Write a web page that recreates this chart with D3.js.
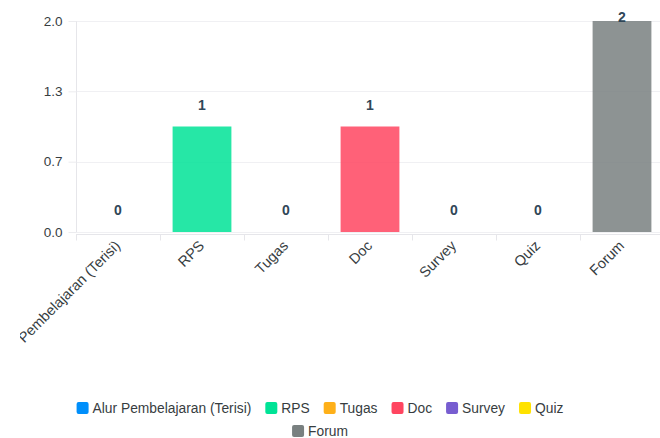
<!DOCTYPE html>
<html>
<head>
<meta charset="utf-8">
<script src="https://cdn.jsdelivr.net/npm/d3@7/dist/d3.min.js"></script>
<style>
  html, body { margin: 0; padding: 0; background: #fff; }
  svg { display: block; font-family: "Liberation Sans", Arial, Helvetica, sans-serif; }
</style>
</head>
<body>
<svg id="chart" width="660" height="438"></svg>
<script>
// Activity counts per category
const categories = ["Alur Pembelajaran (Terisi)", "RPS", "Tugas", "Doc", "Survey", "Quiz", "Forum"];
const values = [0, 1, 0, 1, 0, 0, 2];
const colors = ["#008FFB", "#00E396", "#FEB019", "#FF4560", "#775DD0", "#FFE200", "#798080"];
const yTickValues = [0, 0.6667, 1.3333, 2];
const yTickLabels = ["0.0", "0.7", "1.3", "2.0"];

const svg = d3.select("#chart");
const plot = { left: 76, top: 21, width: 588, height: 211 };

const x = d3.scaleBand().domain(categories).range([plot.left, plot.left + plot.width]).paddingInner(0.3).paddingOuter(0.15);
const xBand = d3.scaleBand().domain(categories).range([plot.left, plot.left + plot.width]);
const y = d3.scaleLinear().domain([0, 2]).range([plot.top + plot.height, plot.top]);

// clip for the rotated category labels
svg.append("defs").append("clipPath").attr("id", "xlabel-clip")
  .append("rect").attr("x", 20).attr("y", 232).attr("width", 640).attr("height", 150);

// grid lines
svg.append("g").selectAll("line").data(yTickValues).join("line")
  .attr("x1", plot.left).attr("x2", plot.left + plot.width)
  .attr("y1", d => Math.round(y(d)) + 0.5).attr("y2", d => Math.round(y(d)) + 0.5)
  .attr("stroke", "#f0f0f3").attr("stroke-width", 1);

// y axis
const yAxis = d3.axisLeft(y).tickValues(yTickValues).tickSize(8).tickPadding(6)
  .tickFormat((d, i) => yTickLabels[i]);
const gy = svg.append("g").attr("transform", `translate(${plot.left + 0.5},0)`).call(yAxis);
gy.select(".domain").attr("stroke", "#e6e6ea").attr("d", `M0,${plot.top}V${plot.top + plot.height}`);
gy.selectAll(".tick line").attr("stroke", "#ececef");
gy.selectAll(".tick text").attr("fill", "#373d3f").attr("font-size", 13.5);

// x axis baseline and category ticks
const baseY = plot.top + plot.height + 2.5;
svg.append("line").attr("x1", plot.left).attr("x2", plot.left + plot.width)
  .attr("y1", baseY).attr("y2", baseY).attr("stroke", "#e6e6ea");
svg.append("g").selectAll("line").data(categories).join("line")
  .attr("x1", d => Math.round(xBand(d)) + 0.5).attr("x2", d => Math.round(xBand(d)) + 0.5)
  .attr("y1", baseY).attr("y2", baseY + 6).attr("stroke", "#e6e6ea");

// bars
svg.append("g").selectAll("rect").data(categories).join("rect")
  .attr("x", d => x(d)).attr("width", x.bandwidth())
  .attr("y", (d, i) => y(values[i]))
  .attr("height", (d, i) => y(0) - y(values[i]))
  .attr("fill", (d, i) => colors[i]).attr("fill-opacity", 0.85);

// value labels above bars
svg.append("g").selectAll("text").data(categories).join("text")
  .attr("x", d => x(d) + x.bandwidth() / 2)
  .attr("y", (d, i) => Math.max(y(values[i]) - 17, 22))
  .attr("text-anchor", "middle").attr("font-size", 14).attr("font-weight", "bold")
  .attr("fill", "#304758")
  .text((d, i) => values[i]);

// rotated category labels
svg.append("g").attr("clip-path", "url(#xlabel-clip)")
  .selectAll("text").data(categories).join("text")
  .attr("transform", d => `translate(${xBand(d) + xBand.bandwidth() / 2 - 3},${baseY + 6}) rotate(-45)`)
  .attr("text-anchor", "end").attr("dy", "0.6em")
  .attr("font-size", 14.5).attr("fill", "#373d3f")
  .text(d => d);

// legend, centred rows
const legendFont = 13.8, markerSize = 12, gapAfterMarker = 4, itemGap = 14, centerX = 320;
const measure = svg.append("text").attr("font-size", legendFont).attr("visibility", "hidden");
const items = categories.map((c, i) => {
  measure.text(c);
  const w = measure.node().getComputedTextLength();
  return { label: c, color: colors[i], w: markerSize + gapAfterMarker + w };
});
measure.remove();
const rows = [[]];
let rowW = 0;
items.forEach(it => {
  const add = (rows[rows.length - 1].length ? itemGap : 0) + it.w;
  if (rowW + add > 520 && rows[rows.length - 1].length) { rows.push([it]); rowW = it.w; }
  else { rows[rows.length - 1].push(it); rowW += add; }
});
const legend = svg.append("g");
rows.forEach((row, r) => {
  const total = d3.sum(row, d => d.w) + itemGap * (row.length - 1);
  let cx = centerX - total / 2;
  const cy = 408 + r * 23;
  row.forEach(it => {
    legend.append("rect").attr("x", cx).attr("y", cy - 6).attr("width", markerSize).attr("height", markerSize)
      .attr("rx", 2).attr("fill", it.color);
    legend.append("text").attr("x", cx + markerSize + gapAfterMarker).attr("y", cy).attr("dy", "0.35em")
      .attr("font-size", legendFont).attr("fill", "#373d3f").text(it.label);
    cx += it.w + itemGap;
  });
});
</script>
</body>
</html>
